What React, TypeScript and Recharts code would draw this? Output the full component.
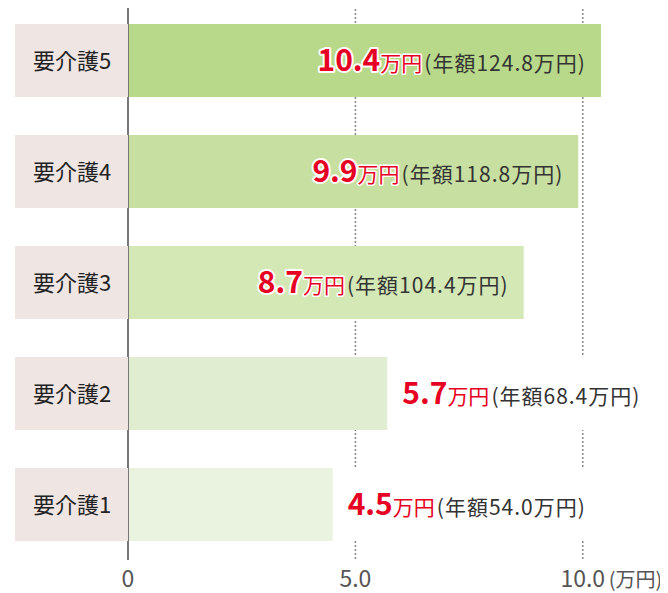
import React from 'react';
import { BarChart, Bar, XAxis, YAxis, CartesianGrid } from 'recharts';

const categories = ['要介護5', '要介護4', '要介護3', '要介護2', '要介護1'];
const monthly = [10.4, 9.9, 8.7, 5.7, 4.5];
const annual = [124.8, 118.8, 104.4, 68.4, 54.0];
const barColors = ['#b8d98a', '#c7e0a1', '#d4e8b6', '#e0edd0', '#eaf3e0'];
const xTicks = [0, 5, 10];
const xDomain = [0, 11.5];
const unitLabel = '(万円)';

const data = categories.map((name, i) => ({ name, value: monthly[i], annual: annual[i], color: barColors[i] }));

const FONT = '"Noto Sans CJK JP", "Noto Sans", sans-serif';
const RED = '#e60023';

const CategoryTick = (props: any) => {
  const { y, payload } = props;
  return (
    <g>
      <rect x={7} y={y - 36.5} width={113} height={73} fill="#efe6e4" />
      <text x={64} y={y + 8} textAnchor="middle" fontSize={22} fill="#222" fontFamily={FONT}>
        {payload.value}
      </text>
    </g>
  );
};

const ValueTick = (props: any) => {
  const { x, y, payload } = props;
  const label = payload.value === 0 ? '0' : payload.value.toFixed(1);
  return (
    <g>
      <text x={x} y={y + 19} textAnchor="middle" fontSize={23} fill="#555" fontFamily={FONT}>
        {label}
      </text>
      {payload.value === xTicks[xTicks.length - 1] && (
        <text x={x + 26} y={y + 19} textAnchor="start" fontSize={20} fill="#555" fontFamily={FONT}>
          {unitLabel}
        </text>
      )}
    </g>
  );
};

const BarShape = (props: any) => {
  const { x, y, width, height, payload } = props;
  const inside = payload.value >= 8;
  const cy = y + height / 2 + 10;
  const tx = inside ? x + width - 15 : x + width + 15;
  return (
    <g>
      {!inside && <rect x={x + width} y={y} width={400} height={height} fill="#fff" />}
      <rect x={x} y={y} width={width} height={height} fill={payload.color} />
      <text x={tx} y={cy} textAnchor={inside ? 'end' : 'start'} fontFamily={FONT}>
        <tspan
          fontSize={30}
          fontWeight={700}
          fill={RED}
          stroke={inside ? '#fff' : 'none'}
          strokeWidth={4}
          paintOrder="stroke"
          strokeLinejoin="round"
        >
          {payload.value.toFixed(1)}
        </tspan>
        <tspan
          fontSize={21}
          fill={RED}
          stroke={inside ? '#fff' : 'none'}
          strokeWidth={3}
          paintOrder="stroke"
          strokeLinejoin="round"
        >
          万円
        </tspan>
        <tspan fontSize={21} fill="#333" dx={2} letterSpacing={1}>{`(年額${payload.annual.toFixed(1)}万円)`}</tspan>
      </text>
    </g>
  );
};

const gridGenerator = (args: any) => {
  const axis = args && args.xAxis;
  if (axis && typeof axis.scale === 'function') {
    return xTicks.filter((t) => t > 0).map((t) => axis.scale(t));
  }
  const off = args && args.offset;
  return xTicks
    .filter((t) => t > 0)
    .map((t) => off.left + (off.width * (t - xDomain[0])) / (xDomain[1] - xDomain[0]));
};

export default function App() {
  return (
    <BarChart
      width={660}
      height={585}
      data={data}
      layout="vertical"
      margin={{ top: -3, right: 17, bottom: 0, left: 0 }}
      barSize={73}
    >
      <CartesianGrid
        horizontal={false}
        stroke="#888"
        strokeDasharray="2 2"
        strokeWidth={1.5}
        verticalCoordinatesGenerator={gridGenerator}
      />
      <XAxis
        type="number"
        domain={xDomain}
        ticks={xTicks}
        axisLine={false}
        tickLine={false}
        tick={<ValueTick />}
        height={33}
        interval={0}
      />
      <YAxis
        type="category"
        dataKey="name"
        width={120}
        axisLine={{ stroke: '#777', strokeWidth: 2 }}
        tickLine={false}
        tick={<CategoryTick />}
        interval={0}
      />
      <Bar dataKey="value" isAnimationActive={false} shape={<BarShape />} />
    </BarChart>
  );
}
